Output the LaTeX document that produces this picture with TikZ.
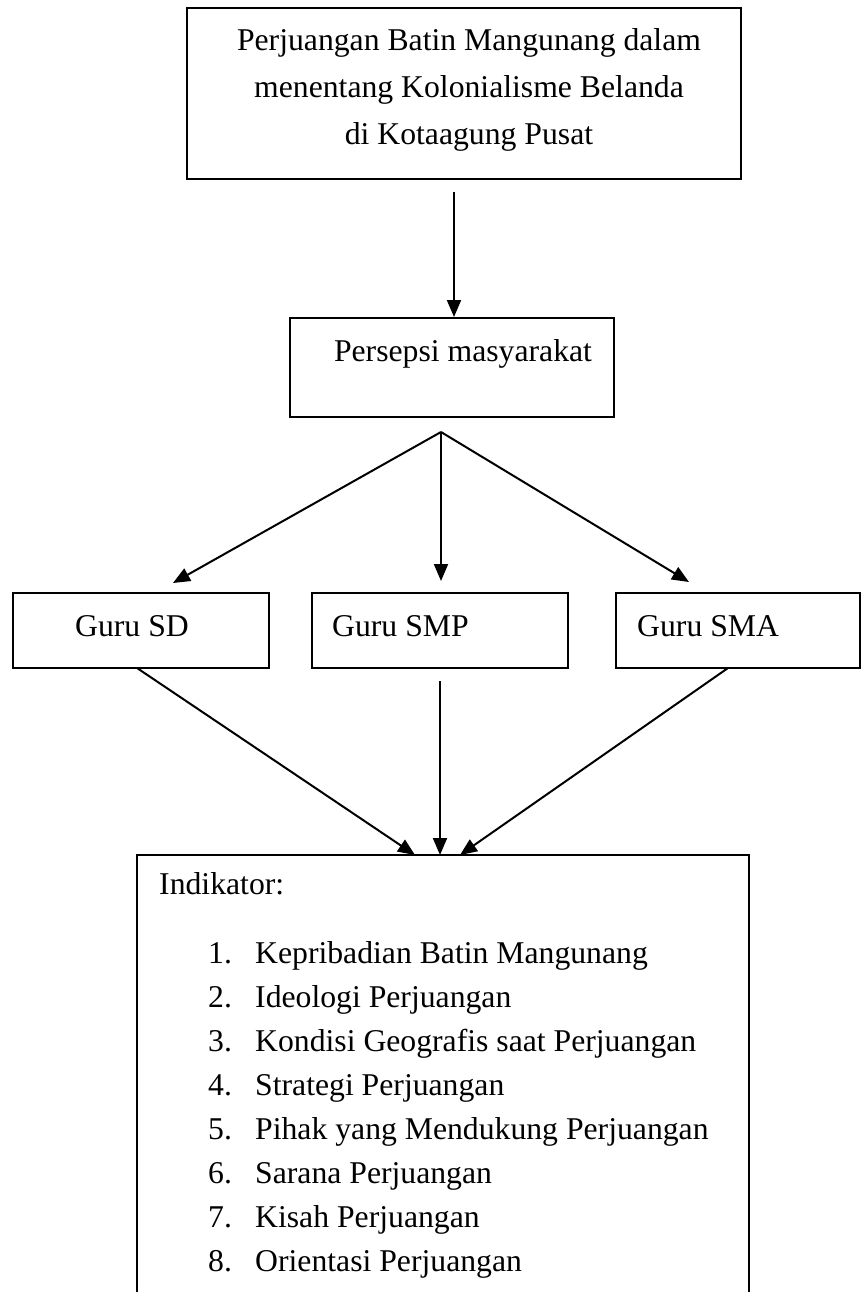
\documentclass[tikz,border=0pt]{standalone}
\usepackage{fontspec}
\setmainfont{Liberation Serif}
\usetikzlibrary{arrows.meta}
\begin{document}
\begin{tikzpicture}[x=1pt,y=-1pt,
  box/.style={draw=black,line width=2pt,inner sep=0pt,minimum width=#1},
  lbl/.style={inner sep=0pt,font=\fontsize{31.7}{47}\selectfont},
  conn/.style={line width=2pt,-{Triangle[length=17pt,width=14pt]}},
  plain/.style={line width=2pt}]
\useasboundingbox (0,0) rectangle (862,1292);
% boxes
\node[box=554,minimum height=171] (top) at (464,93.5) {};
\node[box=324,minimum height=99] (per) at (452,367.5) {};
\node[box=256,minimum height=75] (sd) at (141,630.5) {};
\node[box=256,minimum height=75] (smp) at (440,630.5) {};
\node[box=244,minimum height=75] (sma) at (738,630.5) {};
\coordinate (indTL) at (137,855);
\coordinate (indTR) at (749,855);
\coordinate (indBL) at (137,1292);
\coordinate (indBR) at (749,1292);
\draw[plain] (indBL) -- (indTL) -- (indTR) -- (indBR);
% labels
\node[lbl,anchor=base] (top1) at (469,51) {Perjuangan Batin Mangunang dalam};
\node[lbl,anchor=base] (top2) at (469,98) {menentang Kolonialisme Belanda};
\node[lbl,anchor=base] (top3) at (469,145) {di Kotaagung Pusat};
\node[lbl,anchor=base] (pertxt) at (463,361) {Persepsi masyarakat};
\node[lbl,anchor=base west] (sdtxt) at (75,636) {Guru SD};
\node[lbl,anchor=base west] (smptxt) at (332,636) {Guru SMP};
\node[lbl,anchor=base west] (smatxt) at (637,636) {Guru SMA};
\node[lbl,anchor=base west] (indtxt) at (159,894) {Indikator:};
\foreach \i/\t in {1/Kepribadian Batin Mangunang,2/Ideologi Perjuangan,3/Kondisi Geografis saat Perjuangan,4/Strategi Perjuangan,5/Pihak yang Mendukung Perjuangan,6/Sarana Perjuangan,7/Kisah Perjuangan,8/Orientasi Perjuangan}{
  \node[lbl,anchor=base west] (n\i) at (208,{963+44*(\i-1)}) {\i.};
  \node[lbl,anchor=base west] (t\i) at (255,{963+44*(\i-1)}) {\t};
}
% connector points
\coordinate (s1) at (454,192);
\coordinate (apex) at (441,432);
\coordinate (e1) at (173,583);
\coordinate (e2) at (441,581);
\coordinate (e3) at (689,582);
\coordinate (sdb) at (137,668);
\coordinate (smpb) at (440,681);
\coordinate (smab) at (728,668);
\coordinate (f1) at (415,855);
\coordinate (f2) at (440,855);
\coordinate (f3) at (460,855);
\draw[conn] (s1) -- (s1 |- per.north);
\draw[conn] (apex) -- (e1);
\draw[conn] (apex) -- (e2);
\draw[conn] (apex) -- (e3);
\draw[conn] (sdb) -- (f1);
\draw[conn] (smpb) -- (f2);
\draw[conn] (smab) -- (f3);
\end{tikzpicture}
\end{document}
